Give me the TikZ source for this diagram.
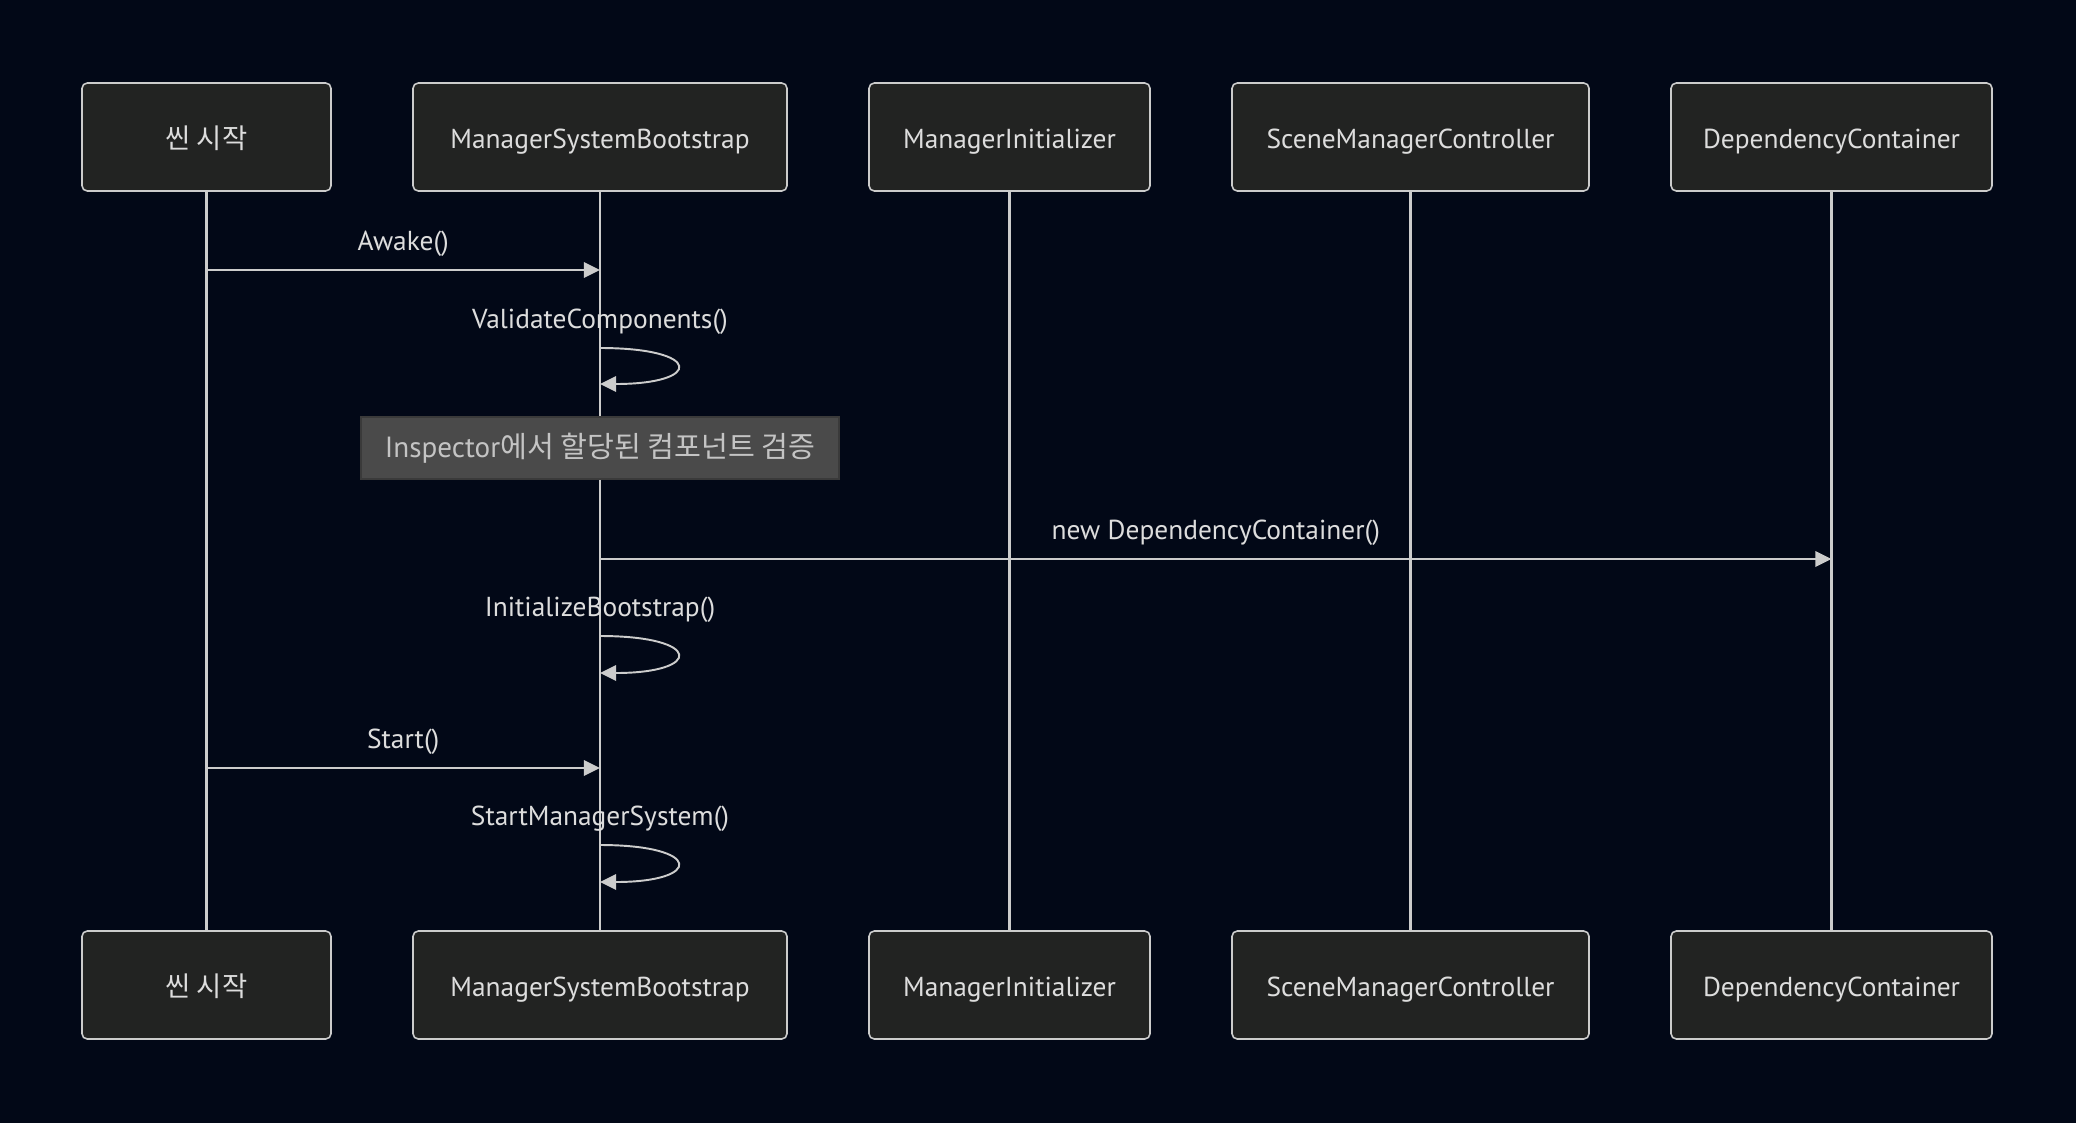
\documentclass[tikz,border=0pt]{standalone}
\usepackage{fontspec}
\setmainfont{PT Sans}
\newfontfamily\krfont{Noto Sans CJK KR}
\usepackage{tikz}
\usetikzlibrary{positioning,arrows.meta}

\definecolor{bgdark}{HTML}{020817}
\definecolor{actorfill}{HTML}{222322}
\definecolor{linegray}{HTML}{CCCCCC}
\definecolor{textgray}{HTML}{DDDDDD}
\definecolor{notefill}{HTML}{4A4A4A}
\definecolor{noteborder}{HTML}{3A3A3A}
\definecolor{notetext}{HTML}{C4C4C4}

\begin{document}
\begin{tikzpicture}[
>={Triangle[length=4.6pt,width=4.4pt]},
node distance=0.82cm,
actor/.style={
draw=linegray,
line width=0.45pt,
rounded corners=1.5pt,
fill=actorfill,
minimum height=1.08cm,
inner sep=0pt,
outer sep=0pt,
text height=0.66em,
text depth=0em,
text=textgray,
font=\fontsize{7.8}{9}\selectfont
},
note/.style={
draw=noteborder,
line width=0.45pt,
fill=notefill,
minimum width=4.78cm,
minimum height=0.62cm,
inner sep=0pt,
text=notetext,
font=\fontsize{8.3}{10}\selectfont
},
msglabel/.style={
inner sep=0pt,
text=textgray,
font=\fontsize{7.8}{9}\selectfont
},
lifeline/.style={
draw=linegray,
line width=0.6pt
},
msg/.style={
->,
draw=linegray,
line width=0.55pt
}
]

%%%%%%%%%%%%%%%%%%%%%%%%%%%%%%%%%%%%%%%%%%%%%
% Background
%%%%%%%%%%%%%%%%%%%%%%%%%%%%%%%%%%%%%%%%%%%%%

\fill[bgdark] (0,0) rectangle (20.76,-11.23);
\useasboundingbox (0,0) rectangle (20.76,-11.23);

%%%%%%%%%%%%%%%%%%%%%%%%%%%%%%%%%%%%%%%%%%%%%
% Participants (top)
%%%%%%%%%%%%%%%%%%%%%%%%%%%%%%%%%%%%%%%%%%%%%

\node[actor, minimum width=2.49cm, anchor=north west] (scene) at (0.82,-0.83)
{\krfont 씬 시작};

\node[actor, minimum width=3.74cm, right=of scene] (bootstrap)
{ManagerSystemBootstrap};

\node[actor, minimum width=2.81cm, right=of bootstrap] (init)
{ManagerInitializer};

\node[actor, minimum width=3.57cm, right=of init] (scenectrl)
{SceneManagerController};

\node[actor, minimum width=3.21cm, right=of scenectrl] (container)
{DependencyContainer};

%%%%%%%%%%%%%%%%%%%%%%%%%%%%%%%%%%%%%%%%%%%%%
% Participants (bottom)
%%%%%%%%%%%%%%%%%%%%%%%%%%%%%%%%%%%%%%%%%%%%%

\node[actor, minimum width=2.49cm, below=7.4cm of scene] (scene-b)
{\krfont 씬 시작};

\node[actor, minimum width=3.74cm, below=7.4cm of bootstrap] (bootstrap-b)
{ManagerSystemBootstrap};

\node[actor, minimum width=2.81cm, below=7.4cm of init] (init-b)
{ManagerInitializer};

\node[actor, minimum width=3.57cm, below=7.4cm of scenectrl] (scenectrl-b)
{SceneManagerController};

\node[actor, minimum width=3.21cm, below=7.4cm of container] (container-b)
{DependencyContainer};

%%%%%%%%%%%%%%%%%%%%%%%%%%%%%%%%%%%%%%%%%%%%%
% Lifelines
%%%%%%%%%%%%%%%%%%%%%%%%%%%%%%%%%%%%%%%%%%%%%

\draw[lifeline] (scene)--(scene-b);

\draw[lifeline] (bootstrap)--(bootstrap-b);

\draw[lifeline] (init)--(init-b);

\draw[lifeline] (scenectrl)--(scenectrl-b);

\draw[lifeline] (container)--(container-b);

%%%%%%%%%%%%%%%%%%%%%%%%%%%%%%%%%%%%%%%%%%%%%
% Message points
%%%%%%%%%%%%%%%%%%%%%%%%%%%%%%%%%%%%%%%%%%%%%

\coordinate (awake-s) at (scene |- 0,-2.70);
\coordinate (awake-e) at (bootstrap |- 0,-2.70);

\coordinate (validate-a) at (bootstrap |- 0,-3.48);
\coordinate (validate-b) at (bootstrap |- 0,-3.84);

\coordinate (new-s) at (bootstrap |- 0,-5.59);
\coordinate (new-e) at (container |- 0,-5.59);

\coordinate (initboot-a) at (bootstrap |- 0,-6.36);
\coordinate (initboot-b) at (bootstrap |- 0,-6.73);

\coordinate (start-s) at (scene |- 0,-7.68);
\coordinate (start-e) at (bootstrap |- 0,-7.68);

\coordinate (startmgr-a) at (bootstrap |- 0,-8.45);
\coordinate (startmgr-b) at (bootstrap |- 0,-8.82);

%%%%%%%%%%%%%%%%%%%%%%%%%%%%%%%%%%%%%%%%%%%%%
% Messages
%%%%%%%%%%%%%%%%%%%%%%%%%%%%%%%%%%%%%%%%%%%%%

\draw[msg] (awake-s)--node[msglabel, above=0.13cm]{Awake()}(awake-e);

\node[msglabel, above=0.13cm of validate-a] (validate-l) {ValidateComponents()};
\draw[msg] (validate-a) .. controls +(1.03,0) and +(1.03,0) .. (validate-b);

\node[note] (note) at (bootstrap |- 0,-4.48)
{Inspector\krfont 에서 할당된 컴포넌트 검증};

\draw[msg] (new-s)--node[msglabel, above=0.13cm]{new DependencyContainer()}(new-e);

\node[msglabel, above=0.13cm of initboot-a] (initboot-l) {InitializeBootstrap()};
\draw[msg] (initboot-a) .. controls +(1.03,0) and +(1.03,0) .. (initboot-b);

\draw[msg] (start-s)--node[msglabel, above=0.13cm]{Start()}(start-e);

\node[msglabel, above=0.13cm of startmgr-a] (startmgr-l) {StartManagerSystem()};
\draw[msg] (startmgr-a) .. controls +(1.03,0) and +(1.03,0) .. (startmgr-b);

\end{tikzpicture}
\end{document}
